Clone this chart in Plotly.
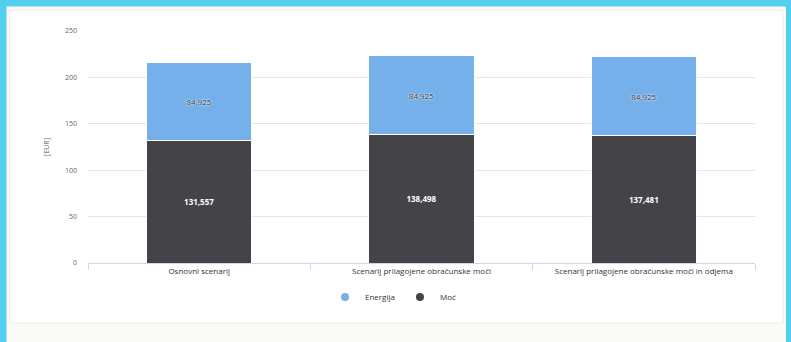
import plotly.graph_objects as go

categories = ["Osnovni scenarij",
              "Scenarij prilagojene obračunske moči",
              "Scenarij prilagojene obračunske moči in odjema"]
moc = [131.557, 138.498, 137.481]
energija = [84.925, 84.925, 84.925]
y_ticks = [0, 50, 100, 150, 200, 250]

BLUE = "#76b0ea"
DARK = "#434348"
CYAN = "#53cfee"

def fmt(v):
    return f"{v:.3f}".replace(".", ",")

W, H = 791, 342
L, R, T, B = 88, 36, 31, 79
pw, ph = W - L - R, H - T - B

def px(x):
    return (x - L) / pw

def py(y):
    return (H - B - y) / ph

def prect(x0, y0, x1, y1, **kw):
    return dict(type="rect", xref="paper", yref="paper",
                x0=px(x0), x1=px(x1), y0=py(y1), y1=py(y0), **kw)

fig = go.Figure()
fig.add_trace(go.Bar(
    x=categories, y=moc, name="Moć", marker=dict(color=DARK, line=dict(color="white", width=1)),
    text=[fmt(v) for v in moc], textposition="inside", insidetextanchor="middle",
    textfont=dict(color="white", size=8, family="Open Sans", weight="bold"),
    showlegend=False, constraintext="none"))
fig.add_trace(go.Bar(
    x=categories, y=energija, name="Energija", marker=dict(color=BLUE, line=dict(color="white", width=1)),
    text=[fmt(v) for v in energija], textposition="inside", insidetextanchor="middle",
    textfont=dict(color="#333333", size=8, family="Open Sans", shadow="0 0 2px #ffffff, 0 0 2px #ffffff"),
    showlegend=False, constraintext="none"))
# legend entries with circle symbols
fig.add_trace(go.Scatter(x=[None], y=[None], mode="markers", name="Energija",
                         marker=dict(color=BLUE, size=8, symbol="circle")))
fig.add_trace(go.Scatter(x=[None], y=[None], mode="markers", name="Moć",
                         marker=dict(color=DARK, size=8, symbol="circle")))

shapes = [
    # light page area inside the cyan frame
    prect(6.5, 6.5, 786, 345, fillcolor="#fafaf7", line=dict(width=0), layer="below"),
    # card background
    prect(9.5, 10, 783, 323, fillcolor="white", line=dict(color="#ececec", width=1), layer="below"),
]

fig.update_layout(
    width=W, height=H,
    margin=dict(l=L, r=R, t=T, b=B, autoexpand=False),
    paper_bgcolor=CYAN,
    plot_bgcolor="white",
    barmode="stack",
    bargap=0.525,
    font=dict(family="Open Sans", size=8, color="#666666"),
    shapes=shapes,
    legend=dict(orientation="h", x=px(393), xanchor="center", y=py(297), yanchor="middle",
                font=dict(size=8, color="#333333"), traceorder="normal",
                bgcolor="rgba(0,0,0,0)", itemwidth=30),
    xaxis=dict(showgrid=False, showline=True, linecolor="#ccd6eb", linewidth=1, automargin=False,
               ticks="outside", tickson="boundaries", ticklen=6, tickcolor="#ccd6eb",
               tickfont=dict(size=8, color="#333333"), range=[-0.5, 2.5]),
    yaxis=dict(range=[0, 250], tickvals=y_ticks, showgrid=True, gridcolor="#e6e6e6", automargin=False,
               gridwidth=1, zeroline=False, showline=False, ticklabelstandoff=10,
               tickfont=dict(size=7, color="#666666"),
               title=dict(text="[EUR]", font=dict(size=7, color="#666666"), standoff=14)),
)

fig.write_html("out.html", config={"displayModeBar": False},
               post_script="document.body.style.margin='0';document.body.style.overflow='hidden';")
